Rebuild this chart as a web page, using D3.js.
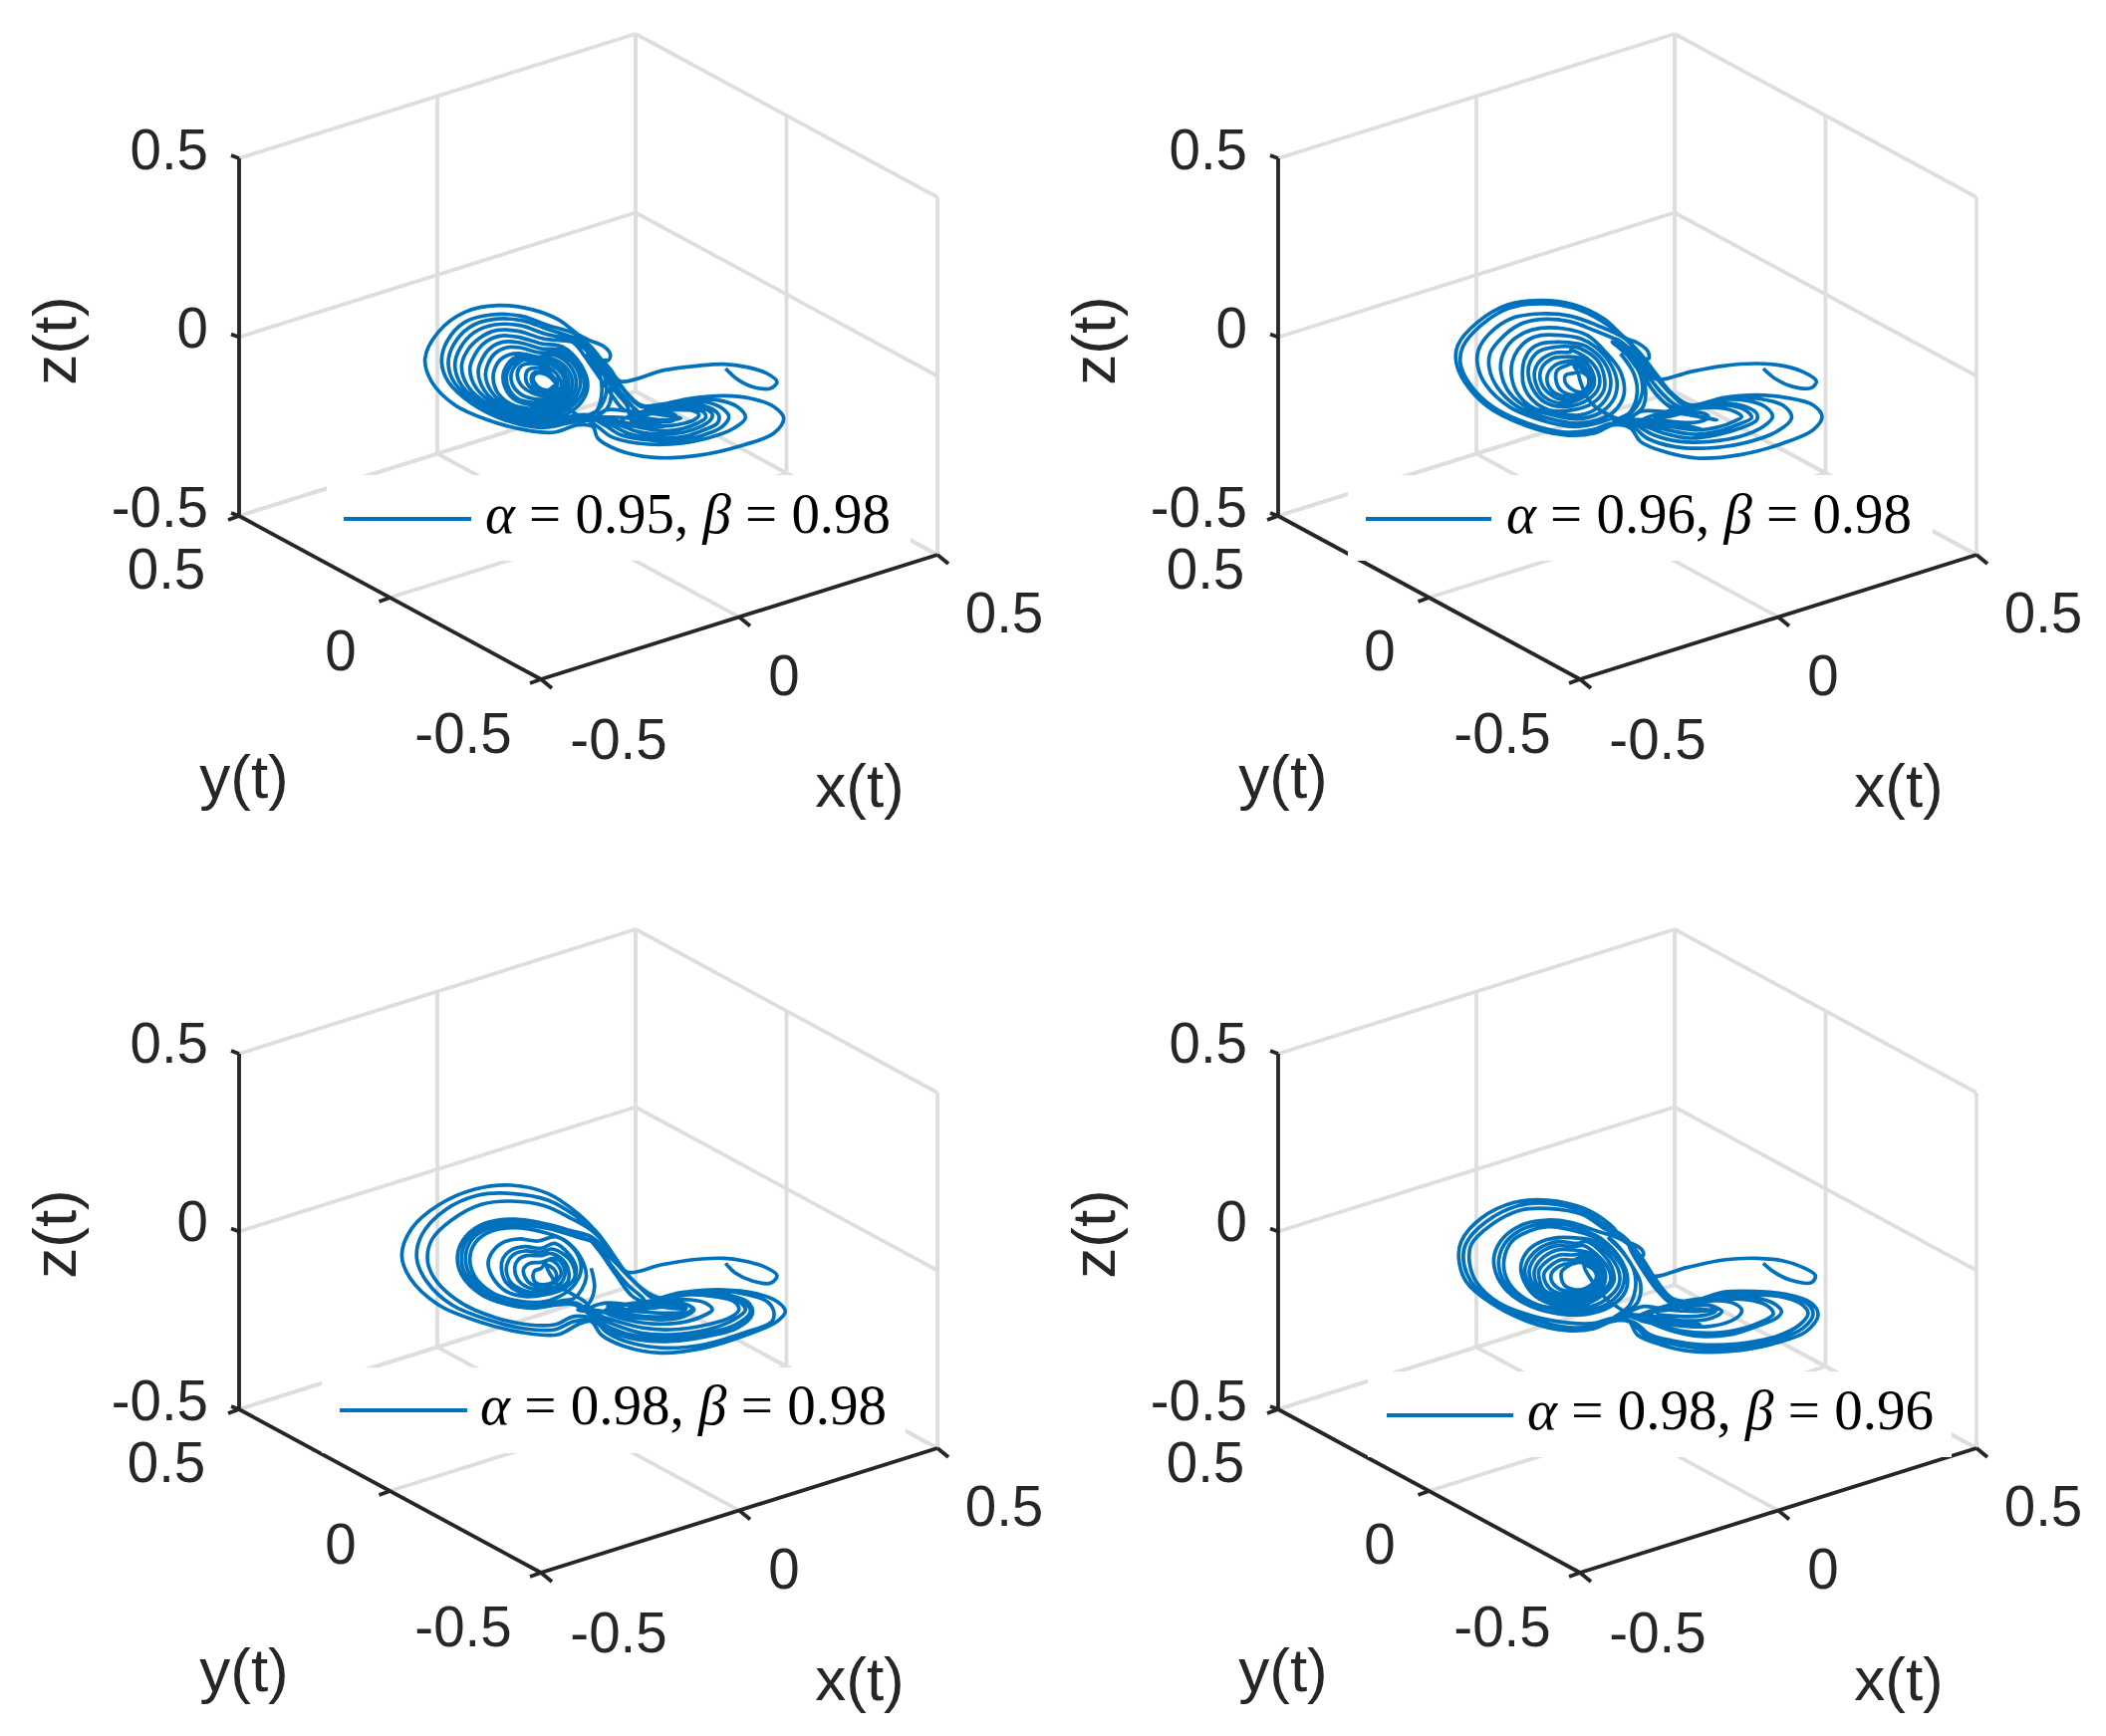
<!DOCTYPE html>
<html><head><meta charset="utf-8">
<script src="https://cdn.jsdelivr.net/npm/d3@7/dist/d3.min.js"></script>
<style>html,body{margin:0;padding:0;background:#fff}svg{display:block}</style>
</head><body><div id="c"></div>
<script>
const alphaValues=[0.95,0.96,0.98,0.98];
const betaValues=[0.98,0.98,0.98,0.96];
const tickValues=[-0.5,0,0.5];
const tickLabels=["-0.5","0","0.5"];
const axisNames=["x(t)","y(t)","z(t)"];

// Traced orbits: flat u,w pairs in the projected view plane (view units, 1260 x 660 frame)
const orbitA=[985,270,1020,302,1070,326,1120,330,1140,310,1110,285,1050,266,980,257,900,262,800,275,668,308,640,275,618,245,632,245,638,228,620,205,575,185,545,170,
480,122,400,92,300,80,200,100,120,160,80,240,100,310,170,380,270,425,380,455,470,462,540,440,
585,445,600,480,660,515,770,538,900,532,1040,500,1130,465,1160,420,1130,385,1060,360,980,352,880,360,790,378,725,380,665,315,620,255,575,200,530,165,
450,140,370,112,280,108,200,130,145,190,130,250,150,310,220,375,320,425,430,448,510,435,565,425,
600,445,640,475,720,495,820,498,930,480,1010,450,1045,418,1020,385,960,365,880,365,790,380,730,385,665,318,615,250,565,195,
445,150,370,125,285,122,215,145,165,200,150,255,170,315,240,375,335,420,440,440,520,425,570,415,
620,440,670,470,750,485,840,488,920,470,975,445,995,415,975,390,930,372,870,370,790,382,730,380,660,312,610,250,555,195,
440,165,365,140,290,138,230,160,185,210,170,260,190,320,260,380,350,415,445,432,515,415,570,410,
640,440,700,468,780,478,860,475,920,455,960,435,965,412,945,392,900,378,850,375,780,385,725,378,655,308,605,245,545,195,
435,180,360,157,295,155,245,178,205,220,190,265,210,325,275,380,360,410,445,425,510,405,555,365,570,320,550,260,495,205,
430,195,360,175,305,172,260,192,228,232,215,272,235,330,295,380,370,405,445,415,505,395,548,355,560,315,540,260,490,215,
430,210,365,192,315,190,275,210,250,245,240,280,258,335,310,380,380,400,450,405,505,385,540,345,548,310,530,260,480,222,
425,222,365,207,325,207,290,225,270,255,262,290,280,340,325,380,385,395,450,395,500,375,530,340,535,305,515,260,470,230,
420,235,370,225,335,228,305,245,290,270,285,300,300,345,340,378,390,390,450,385,495,365,520,335,522,300,500,262,460,240,
420,240,370,232,345,240,325,262,315,290,320,325,345,360,390,378,445,378,490,358,510,330,510,300,490,268,455,248,
415,245,375,240,350,250,332,272,325,295,332,330,360,362,400,372,445,370,480,352,500,328,498,298,480,272,445,252,
410,250,375,245,352,262,340,285,342,315,365,345,400,360,440,362,475,345,490,322,475,285,440,262,
400,255,370,262,358,285,368,318,400,342,440,352,480,340,492,310,470,300,450,275,415,268,390,275,383,300,395,325,430,342,465,340,478,318,
465,295,430,280,405,285,400,305,415,330,450,340,475,325,470,310,445,288,415,285,405,300,420,325,450,335,472,322,
490,370,540,410,590,425,
650,435,720,460,800,468,860,462,910,445,940,425,945,408,925,392,885,382,830,382,770,390,
670,430,740,450,810,458,860,450,900,435,925,418,920,402,895,392,860,388,810,390,
700,425,760,440,820,442,860,435,890,425,905,410,890,398,860,395,820,395,780,400,
730,420,780,430,830,425,835,412,800,402,750,408,700,420,
690,385,650,335,605,270,560,210,525,190,540,205,590,275,635,340,680,395,720,400,700,380,640,305,595,240,550,190,535,180,565,205,610,265,650,320,705,385,
720,410,800,425,850,420,780,408,690,398,625,395,600,412,680,418,760,432,800,445,720,440,640,425,590,420,540,425,600,395,625,345,620,290,585,235,540,190,560,200,610,265,640,330,628,390,570,425,540,430,595,400,612,345,605,285,565,225];

const orbitB=[1020,270,1055,300,1110,325,1165,328,1180,308,1140,280,1080,262,1000,255,900,262,800,280,700,303,665,270,650,240,675,240,672,218,640,192,605,178,
540,120,450,78,350,65,250,78,160,130,100,200,95,250,120,310,190,385,300,440,420,470,510,465,570,440,
620,450,650,490,720,520,820,540,950,530,1080,495,1170,455,1197,415,1170,380,1090,358,1000,350,900,358,800,380,745,345,700,290,650,225,600,175,
530,125,450,88,350,75,255,88,170,140,115,205,108,255,135,315,205,385,310,435,425,462,505,455,565,435,
625,445,670,480,750,505,850,510,960,495,1060,460,1105,420,1085,385,1000,360,900,362,800,382,745,345,695,290,645,225,600,178,
520,140,440,112,350,105,265,118,195,165,162,215,160,262,185,320,255,385,350,425,450,445,520,435,575,420,
635,440,690,470,770,490,860,490,950,475,1020,445,1048,415,1025,385,960,365,880,365,790,385,745,350,690,290,640,230,590,190,
510,155,435,128,350,122,285,138,225,185,197,225,195,270,218,325,280,385,365,418,455,435,520,425,570,400,600,350,590,280,540,215,
490,170,420,150,350,148,300,162,255,195,232,240,230,280,250,335,305,385,385,410,460,422,525,405,565,370,580,320,565,265,515,205,
470,180,410,170,350,170,310,185,280,215,264,250,262,295,280,345,330,390,400,405,470,410,525,385,555,345,560,300,540,250,490,205,
460,195,400,190,350,195,320,212,300,245,295,275,298,320,325,365,375,395,445,395,505,375,540,335,540,290,520,245,470,210,
450,205,395,205,345,218,318,250,312,285,325,330,360,370,420,385,490,365,525,325,522,280,490,240,440,215,
440,220,395,222,355,240,332,275,335,315,360,355,420,375,485,352,510,320,505,280,470,240,
420,235,385,240,352,270,350,310,375,345,425,365,480,345,500,312,490,275,460,248,
420,250,390,262,370,290,372,320,395,345,440,355,480,338,495,310,480,275,450,255,
425,262,400,275,395,300,410,335,450,350,490,335,498,305,480,275,450,262,
460,280,425,290,425,315,460,340,495,335,505,315,490,292,465,280,
500,372,590,425,
640,435,720,465,800,480,880,470,950,450,1000,425,1000,405,975,388,920,375,860,375,790,385,
650,430,730,455,810,468,880,460,940,440,985,418,970,398,930,383,870,380,800,388,
680,430,760,448,830,455,890,445,930,430,955,415,935,400,900,390,850,388,790,395,
700,420,770,432,830,430,855,415,840,405,800,402,750,410,700,420,
780,400,735,365,690,315,650,262,610,205,575,180,600,215,640,270,680,325,725,375,770,395,760,385,710,340,665,280,625,225,590,190,615,225,655,285,695,345,745,390,
780,405,850,420,880,425,800,410,720,400,650,400,625,420,700,425,780,440,840,455,760,445,670,430,620,425,570,430,630,395,655,345,650,290,615,235,565,190,590,205,640,265,665,330,655,390,600,425,570,435,620,400,640,345,630,285,590,225];

const orbitC=[1045,295,1075,325,1125,348,1180,355,1200,332,1160,305,1100,288,1040,280,940,285,850,300,750,322,715,285,690,245,
660,205,600,145,510,85,400,60,290,72,180,120,100,190,70,270,95,340,180,420,300,470,430,503,540,510,600,480,
640,470,670,510,740,545,850,565,980,550,1110,510,1200,470,1225,440,1200,410,1130,385,1040,375,940,380,850,400,790,370,735,310,690,245,650,200,
590,150,510,105,400,85,300,90,200,135,130,210,115,280,145,350,220,420,330,465,440,492,530,495,590,470,
650,470,690,505,760,535,860,550,980,540,1100,505,1185,470,1190,440,1170,410,1090,385,1000,378,900,385,850,400,790,370,735,310,685,240,640,195,
580,160,500,122,400,108,310,118,220,165,160,225,148,290,175,350,250,415,350,458,450,480,530,480,590,455,
655,465,700,500,780,525,880,530,990,515,1080,490,1125,450,1115,415,1050,390,960,380,880,390,840,400,780,360,720,300,680,250,640,215,570,195,
520,180,410,162,320,175,262,215,238,270,250,330,310,390,390,420,470,430,540,420,590,420,
650,460,700,490,780,515,880,520,990,505,1075,480,1120,440,1100,410,1040,390,960,385,880,392,830,400,770,350,710,285,660,240,610,215,
520,185,410,170,325,182,270,220,250,272,262,330,320,385,400,415,480,425,545,418,595,415,
655,455,710,480,790,505,880,510,990,495,1070,465,1105,435,1085,410,1030,392,950,388,880,395,830,402,765,345,705,285,655,235,605,218,
510,190,410,178,330,190,280,225,262,275,275,330,330,385,410,412,490,420,550,408,590,400,625,340,610,280,560,225,
490,200,410,188,340,198,292,232,275,280,290,335,345,385,420,408,490,412,545,395,590,360,610,310,590,255,535,215,
480,228,420,222,370,235,340,265,330,295,345,340,385,380,440,395,500,390,560,370,590,340,595,310,575,270,530,235,
490,250,440,245,400,255,375,280,370,310,382,350,420,380,470,392,520,385,565,365,590,340,585,300,560,270,520,252,
490,262,440,258,405,270,388,295,385,320,400,355,440,378,490,385,535,375,570,350,570,310,550,280,515,265,
490,272,445,272,420,285,410,310,420,345,450,368,495,375,540,362,560,335,555,300,530,280,
490,292,455,295,437,312,440,335,460,358,500,365,535,350,550,325,535,295,510,285,
490,310,470,318,465,335,475,355,510,358,535,340,530,315,505,300,
540,360,620,410,
650,445,720,470,800,490,880,495,990,480,1060,458,1085,435,1070,410,1010,395,940,390,870,398,810,410,740,420,
680,440,760,468,850,478,930,470,985,450,1005,435,985,415,940,405,880,405,820,415,750,420,
700,440,780,458,860,465,920,455,950,435,930,420,880,412,820,418,760,430,
720,445,800,455,880,455,930,445,945,430,920,420,870,420,800,430,750,440,
690,430,780,440,860,445,920,440,925,428,880,425,820,430,750,435,690,425,
800,410,750,360,700,300,660,240,635,220,670,265,715,330,765,395,
820,420,880,430,920,432,840,425,760,420,680,415,640,430,720,445,800,455,860,462,780,460,690,445,640,440,600,435,630,420,650,370,640,310];

const orbitD=[1020,265,1050,290,1100,315,1165,323,1177,302,1140,278,1080,258,1000,250,900,255,790,278,685,303,660,270,645,245,658,242,655,225,630,208,600,195,
560,150,480,100,370,75,270,82,170,130,110,200,103,250,125,320,200,385,310,440,430,468,510,462,565,440,
615,440,640,480,710,510,800,530,920,530,1060,505,1150,470,1185,420,1165,385,1085,358,1000,350,900,352,820,375,750,375,700,320,655,250,600,185,
550,155,480,110,370,85,280,92,185,140,125,205,117,255,140,320,210,385,320,432,430,458,510,455,565,435,
625,445,660,480,730,505,820,520,930,520,1060,495,1140,460,1170,418,1150,385,1075,362,1000,355,900,358,820,378,750,375,695,315,650,245,600,190,
540,160,475,118,370,100,290,105,200,150,140,210,135,260,155,320,225,385,330,425,440,445,515,445,570,430,
635,445,675,478,745,498,830,510,940,508,1060,485,1130,450,1155,415,1130,385,1070,365,1000,360,900,362,825,380,745,370,690,305,645,240,595,195,
510,165,440,142,370,135,300,147,240,185,210,240,215,295,250,350,320,395,410,418,490,418,560,395,605,350,610,300,585,245,530,190,
490,170,430,150,370,145,305,158,250,195,225,245,228,295,262,350,330,392,415,410,490,408,555,385,595,340,600,290,570,240,515,190,
480,175,420,160,370,155,315,168,262,200,240,250,243,300,275,350,340,390,420,402,490,398,545,375,585,330,585,290,555,240,500,195,
470,190,400,188,340,205,305,235,290,275,300,320,335,365,400,392,470,392,530,365,570,320,565,280,535,235,490,200,
460,205,400,200,345,220,315,250,302,285,315,330,350,368,410,385,475,382,530,355,560,318,550,275,520,240,480,212,
450,215,400,212,350,232,325,260,315,290,330,335,365,368,425,380,485,372,530,345,545,310,535,270,500,235,
445,225,400,225,360,245,335,275,330,300,345,340,380,368,435,372,495,362,530,335,540,300,520,260,490,238,
445,240,405,240,370,258,345,285,345,310,360,345,395,362,445,365,495,352,525,325,530,295,510,262,480,245,
450,255,410,255,380,272,360,295,365,325,390,350,440,358,490,345,520,320,520,290,500,265,470,255,
455,265,420,268,390,285,380,305,395,335,435,350,485,340,515,315,515,290,495,272,465,262,
430,275,412,292,420,330,455,345,495,338,518,315,510,285,480,272,
540,365,600,410,
620,425,680,445,750,470,830,485,920,480,1000,455,1060,430,1075,410,1050,385,1000,370,930,365,850,370,780,380,
640,430,700,450,770,468,850,475,930,468,1005,445,1050,418,1035,395,990,378,920,372,850,375,780,382,
660,425,720,445,790,455,860,455,920,440,950,420,955,405,930,385,880,378,820,382,750,390,
680,420,750,435,820,438,870,428,895,410,870,395,830,388,770,392,720,400,
700,415,770,425,840,422,875,410,865,395,820,392,760,398,710,408,
770,395,725,355,685,300,645,240,605,195,635,240,675,300,715,360,755,390,735,375,690,320,650,260,615,215,
650,275,695,340,740,385,790,400,850,405,880,405,810,410,730,405,660,395,615,415,690,425,770,440,830,450,750,445,670,430,610,425,570,430,615,395,635,340,630,285,595,230,555,190,575,205,620,265,650,325,640,385,585,425,555,435];

const panels=[
 {orbit:orbitA,dx:0,dy:0,zSpan:359,fx:400,fy:280,box:[328,477,914,563],line:[345,473,521],text:[487,894,535]},
 {orbit:orbitB,dx:1043,dy:0,zSpan:359,fx:1430,fy:280,box:[1353,477,1940,563],line:[1371,1497,521],text:[1512,1919,535]},
 {orbit:orbitC,dx:0,dy:897,zSpan:357,fx:380,fy:1170,box:[323,1373,909,1459],line:[341,469,1416],text:[482,890,1430]},
 {orbit:orbitD,dx:1043,dy:897,zSpan:357,fx:1430,fy:1180,box:[1373,1377,1959,1463],line:[1392,1519,1421],text:[1533,1941,1435]}
];

const W=2114,H=1743,ink="#262626",gridC="#dedede",blue="#0072BD";
const svg=d3.select("#c").append("svg").attr("width",W).attr("height",H).attr("viewBox",`0 0 ${W} ${H}`);
svg.append("rect").attr("width",W).attr("height",H).attr("fill","#fff");

// 3-D axis scales: each data axis contributes a screen offset from the front floor corner
const xToH=d3.scaleLinear().domain([-0.5,0.5]).range([0,398]);
const xToV=d3.scaleLinear().domain([-0.5,0.5]).range([0,-125]);
const yToH=d3.scaleLinear().domain([-0.5,0.5]).range([0,-303]);
const yToV=d3.scaleLinear().domain([-0.5,0.5]).range([0,-164]);
const O=[543,682];
const FS=56.5,LFS=62,SANS='"Liberation Sans",Arial,sans-serif';

panels.forEach((p,i)=>{
  const g=svg.append("g");
  const zToV=d3.scaleLinear().domain([-0.5,0.5]).range([0,-p.zSpan]);
  const pr=(x,y,z)=>[O[0]+p.dx+xToH(x)+yToH(y), O[1]+p.dy+xToV(x)+yToV(y)+zToV(z)];
  const seg=(a,b,c,w)=>g.append("line").attr("x1",a[0]).attr("y1",a[1]).attr("x2",b[0]).attr("y2",b[1]).attr("stroke",c).attr("stroke-width",w);
  const [lo,hi]=[-0.5,0.5];
  const GW=3.8,AW=3.8;
  tickValues.forEach(t=>{
    seg(pr(t,hi,lo),pr(t,hi,hi),gridC,GW);
    seg(pr(lo,hi,t),pr(hi,hi,t),gridC,GW);
    seg(pr(hi,t,lo),pr(hi,t,hi),gridC,GW);
    seg(pr(hi,lo,t),pr(hi,hi,t),gridC,GW);
    seg(pr(t,lo,lo),pr(t,hi,lo),gridC,GW);
    seg(pr(lo,t,lo),pr(hi,t,lo),gridC,GW);
  });
  // orbit
  const pts=d3.pairs(p.orbit).filter((_,k)=>k%2===0);
  const uS=d3.scaleLinear().domain([0,1260]).range([p.fx,p.fx+420]);
  const wS=d3.scaleLinear().domain([0,660]).range([p.fy,p.fy+220]);
  const ln=d3.line().x(d=>uS(d[0])).y(d=>wS(d[1])).curve(d3.curveCatmullRom.alpha(0.5));
  g.append("path").attr("d",ln(pts)).attr("fill","none").attr("stroke",blue).attr("stroke-width",3.7).attr("stroke-linejoin","round");
  // axes
  seg(pr(lo,lo,lo),pr(hi,lo,lo),ink,AW);
  seg(pr(lo,lo,lo),pr(lo,hi,lo),ink,AW);
  seg(pr(lo,hi,lo),pr(lo,hi,hi),ink,AW);
  tickValues.forEach(t=>{
    const a=pr(t,lo,lo); seg(a,[a[0]+11,a[1]+9],ink,AW);
    const b=pr(lo,t,lo); seg(b,[b[0]-11,b[1]+4],ink,AW);
    const c=pr(lo,hi,t); seg(c,[c[0]-8,c[1]-3],ink,AW);
  });
  // tick labels
  const txt=(s,x,y,anchor,size)=>g.append("text").attr("x",x+p.dx).attr("y",y+p.dy+size*0.36).attr("text-anchor",anchor)
     .attr("font-family",SANS).attr("font-size",size).attr("fill",ink).text(s);
  const xPos=[[621,742],[787,678],[1008,615]];
  const yPos=[[465,736],[342,653],[167,571]];
  const zPos=[[209,509],[209,329],[209,150]];
  tickLabels.forEach((s,k)=>{
    txt(s,xPos[k][0],xPos[k][1],"middle",FS);
    txt(s,yPos[k][0],yPos[k][1],"middle",FS);
    txt(s,zPos[k][0],zPos[k][1],"end",FS);
  });
  txt(axisNames[0],863,788,"middle",LFS);
  txt(axisNames[1],245,779,"middle",LFS);
  g.append("text").attr("transform",`translate(${57+p.dx+LFS*0.3},${342+p.dy}) rotate(-90)`).attr("text-anchor","middle")
    .attr("font-family",SANS).attr("font-size",LFS).attr("fill",ink).text(axisNames[2]);
  // legend
  const [bx0,by0,bx1,by1]=p.box;
  g.append("rect").attr("x",bx0).attr("y",by0).attr("width",bx1-bx0).attr("height",by1-by0).attr("fill","#fff");
  seg([p.line[0],p.line[2]],[p.line[1],p.line[2]],blue,3.8);
  const t=g.append("text").attr("x",p.text[0]).attr("y",p.text[2]).attr("font-family",'"Liberation Serif",serif').attr("font-size",57).attr("fill","#000")
    .attr("textLength",p.text[1]-p.text[0]).attr("lengthAdjust","spacingAndGlyphs");
  t.append("tspan").attr("font-style","italic").text("α");
  t.append("tspan").text(` = ${alphaValues[i].toFixed(2)}, `);
  t.append("tspan").attr("font-style","italic").text("β");
  t.append("tspan").text(` = ${betaValues[i].toFixed(2)}`);
});
</script></body></html>
